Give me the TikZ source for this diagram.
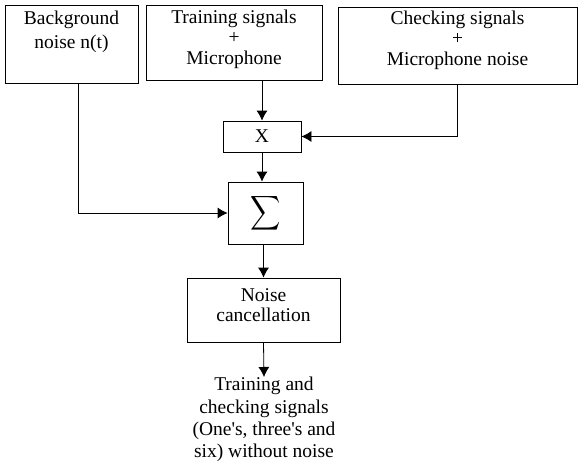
\documentclass[tikz,border=0pt]{standalone}
\usepackage{fontspec}
\setmainfont{Liberation Serif}
\usetikzlibrary{arrows.meta}
\begin{document}
\begin{tikzpicture}[x=1pt, y=-1pt, >={Latex[length=10pt, width=11pt]},
    every block/.style={draw, line width=0.8pt, inner sep=0pt},
    every text/.style={align=center, font=\fontsize{19.5}{20.5}\selectfont},
    line width=0.8pt]
    \useasboundingbox (0,0) rectangle (584,461);

    % inputs
    \node [every block, minimum width=133, minimum height=78,
      label={[every text, yshift=12]center:Background\\[4pt]noise n(t)}] (noise) at (71.5,44) {};
    \node [every block, minimum width=176, minimum height=75,
      label={[every text, yshift=3.5]center:Training signals\\+\\Microphone}] (train) at (234,42.5) {};
    \node [every block, minimum width=239, minimum height=77,
      label={[every text, yshift=5.5]center:Checking signals\\+\\Microphone noise}] (check) at (457.5,45.5) {};

    % processing chain
    \node [every block, every text, minimum width=78, minimum height=31] (mult) at (262,136.5) {X};
    \node [every block, minimum width=75, minimum height=62] (sum) at (265.5,213)
      {\scalebox{2.1}[2.4]{$\displaystyle\sum$}};
    \node [every block, minimum width=153, minimum height=64,
      label={[every text, yshift=5]center:Noise\\cancellation}] (cancel) at (263.5,310) {};
    \node [every text, inner sep=0pt, anchor=north, font=\fontsize{19.5}{22.3}\selectfont]
      (out) at (264,377) {Training and\\checking signals\\(One\textquotesingle s, three\textquotesingle s and\\six) without noise};

    \draw [->] (mult.north |- train.south) -- (mult.north);
    \draw [->] (check.south) |- (mult.east);
    \draw [->] ([xshift=6.5]noise.south) |- (sum.west);
    \draw [->] (mult.south) -- (mult.south |- sum.north);
    \draw [->] (cancel.north |- sum.south) -- (cancel.north);
    \draw [->] (cancel.south) -- (out.north);

\end{tikzpicture}
\end{document}
